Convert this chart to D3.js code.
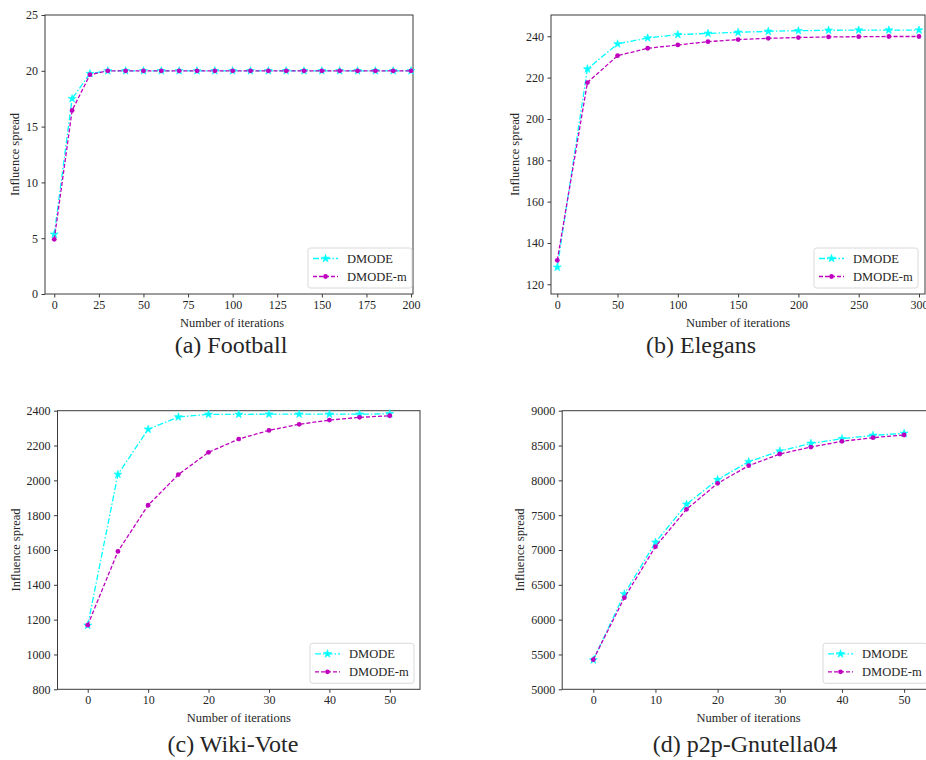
<!DOCTYPE html>
<html>
<head>
<meta charset="utf-8">
<script src="https://cdn.jsdelivr.net/npm/d3@7"></script>
<style>
  body { margin: 0; background: #fff; }
  svg text { font-family: "Liberation Serif", "Times New Roman", serif; fill: #262626; }
</style>
</head>
<body>
<svg id="chart" width="926" height="760"></svg>
<script>
// values
var seriesNames = ["DMODE", "DMODE-m"];

var footballIter = [0, 10, 20, 30, 40, 50, 60, 70, 80, 90, 100, 110, 120, 130, 140, 150, 160, 170, 180, 190, 200];
var footballDmode = [5.35, 17.5, 19.75, 20, 20, 20, 20, 20, 20, 20, 20, 20, 20, 20, 20, 20, 20, 20, 20, 20, 20];
var footballDmodeM = [4.9, 16.45, 19.65, 20, 20, 20, 20, 20, 20, 20, 20, 20, 20, 20, 20, 20, 20, 20, 20, 20, 20];

var elegansIter = [0, 25, 50, 75, 100, 125, 150, 175, 200, 225, 250, 275, 300];
var elegansDmode = [128.2, 224.2, 236.3, 239.2, 240.8, 241.4, 241.9, 242.4, 242.7, 242.9, 243.0, 243.0, 243.0];
var elegansDmodeM = [131.6, 217.6, 230.6, 234.2, 235.8, 237.4, 238.4, 239.0, 239.4, 239.7, 239.8, 239.9, 239.9];

var wikiIter = [0, 5, 10, 15, 20, 25, 30, 35, 40, 45, 50];
var wikiDmode = [1167, 2034, 2293, 2364, 2379, 2379, 2380, 2380, 2380, 2380, 2382];
var wikiDmodeM = [1168, 1592, 1857, 2033, 2161, 2237, 2287, 2322, 2346, 2362, 2371];

var gnutellaIter = [0, 5, 10, 15, 20, 25, 30, 35, 40, 45, 50];
var gnutellaDmode = [5421, 6369, 7110, 7656, 8010, 8268, 8421, 8531, 8598, 8646, 8675];
var gnutellaDmodeM = [5425, 6316, 7048, 7584, 7957, 8211, 8378, 8478, 8560, 8613, 8651];

var footballXTicks = [0, 25, 50, 75, 100, 125, 150, 175, 200];
var footballYTicks = [0, 5, 10, 15, 20, 25];
var elegansXTicks = [0, 50, 100, 150, 200, 250, 300];
var elegansYTicks = [120, 140, 160, 180, 200, 220, 240];
var wikiXTicks = [0, 10, 20, 30, 40, 50];
var wikiYTicks = [800, 1000, 1200, 1400, 1600, 1800, 2000, 2200, 2400];
var gnutellaXTicks = [0, 10, 20, 30, 40, 50];
var gnutellaYTicks = [5000, 5500, 6000, 6500, 7000, 7500, 8000, 8500, 9000];

var captions = ["(a) Football", "(b) Elegans", "(c) Wiki-Vote", "(d) p2p-Gnutella04"];

(function (d3) {

  "use strict";

  var svg = d3.select("#chart");
  var serif = "'Liberation Serif', 'Times New Roman', serif";
  var colors = ["#00ffff", "#bf00bf"];
  var dashes = ["6,2,1.5,2", "4,2"];
  var spine = "#3a3a3a";

  // layout of each subplot (pixels)
  var panels = [
    { iter: footballIter, a: footballDmode, b: footballDmodeM, xt: footballXTicks, yt: footballYTicks,
      box: [45, 15, 413, 294], xd: [-5.2, 201.1], yd: [0, 25], labelCx: 232, capX: 231, capY: 353, legRight: 412 },
    { iter: elegansIter, a: elegansDmode, b: elegansDmodeM, xt: elegansXTicks, yt: elegansYTicks,
      box: [551, 15, 925, 294], xd: [-5.2, 305], yd: [115.3, 250.3], labelCx: 738, capX: 701, capY: 353, legRight: 918 },
    { iter: wikiIter, a: wikiDmode, b: wikiDmodeM, xt: wikiXTicks, yt: wikiYTicks,
      box: [57.5, 410.7, 420, 689.3], xd: [-5, 55], yd: [800, 2400], labelCx: 238.7, capX: 233, capY: 752, legRight: 414 },
    { iter: gnutellaIter, a: gnutellaDmode, b: gnutellaDmodeM, xt: gnutellaXTicks, yt: gnutellaYTicks,
      box: [562.2, 410.7, 935.2, 689.3], xd: [-5, 55], yd: [5000, 9000], labelCx: 748.5, capX: 745, capY: 752, legRight: 927 }
  ];

  function drawMarkers(g, pts, k, x, y) {
    if (k === 0) {
      g.selectAll("path.star")
        .data(pts)
        .enter()
        .append("path")
        .attr("class", "star")
        .attr("d", d3.symbol().type(d3.symbolStar).size(20))
        .attr("transform", function (d) { return "translate(" + x(d[0]) + "," + y(d[1]) + ")"; })
        .attr("fill", colors[0])
        .attr("stroke", colors[0])
        .attr("stroke-width", 0.6);
    } else {
      g.selectAll("circle")
        .data(pts)
        .enter()
        .append("circle")
        .attr("cx", function (d) { return x(d[0]); })
        .attr("cy", function (d) { return y(d[1]); })
        .attr("r", 2.4)
        .attr("fill", colors[1]);
    }
  }

  function drawPanel(p, idx) {
    var L = p.box[0], T = p.box[1], R = p.box[2], B = p.box[3];
    var x = d3.scaleLinear().domain(p.xd).range([L, R]);
    var y = d3.scaleLinear().domain(p.yd).range([B, T]);
    var g = svg.append("g");

    // axes
    var xa = g.append("g")
      .attr("transform", "translate(0," + B + ")")
      .call(d3.axisBottom(x).tickValues(p.xt).tickFormat(d3.format("d"))
        .tickSize(3.5).tickPadding(3).tickSizeOuter(0));
    var ya = g.append("g")
      .attr("transform", "translate(" + L + ",0)")
      .call(d3.axisLeft(y).tickValues(p.yt).tickFormat(d3.format("d"))
        .tickSize(3.5).tickPadding(3.5).tickSizeOuter(0));
    [xa, ya].forEach(function (a) {
      a.attr("font-family", serif).attr("font-size", 12);
      a.select(".domain").remove();
      a.selectAll("line").attr("stroke", spine);
      a.selectAll("text").attr("fill", "#262626");
    });

    // frame
    g.append("rect")
      .attr("x", L).attr("y", T)
      .attr("width", R - L).attr("height", B - T)
      .attr("fill", "none")
      .attr("stroke", spine)
      .attr("stroke-width", 1);

    // lines and markers
    var line = d3.line()
      .x(function (d) { return x(d[0]); })
      .y(function (d) { return y(d[1]); });
    [p.a, p.b].forEach(function (vals, k) {
      var pts = p.iter.map(function (it, i) { return [it, vals[i]]; });
      g.append("path")
        .datum(pts)
        .attr("d", line)
        .attr("fill", "none")
        .attr("stroke", colors[k])
        .attr("stroke-width", 1.3)
        .attr("stroke-dasharray", dashes[k]);
      drawMarkers(g, pts, k, x, y);
    });

    // axis labels
    g.append("text")
      .attr("x", p.labelCx).attr("y", B + 33)
      .attr("text-anchor", "middle")
      .attr("font-size", 12.5)
      .text("Number of iterations");
    var bb = ya.node().getBBox();
    g.append("text")
      .attr("transform", "translate(" + (L + bb.x - 7) + "," + ((T + B) / 2) + ") rotate(-90)")
      .attr("text-anchor", "middle")
      .attr("font-size", 12.5)
      .text("Influence spread");

    // legend
    var lw = 104, lh = 40;
    var lx = p.legRight - lw, ly = B - 6 - lh;
    var leg = g.append("g").attr("transform", "translate(" + lx + "," + ly + ")");
    leg.append("rect")
      .attr("width", lw).attr("height", lh)
      .attr("rx", 2.5)
      .attr("fill", "#fff").attr("fill-opacity", 0.8)
      .attr("stroke", "#d0d0d0").attr("stroke-width", 0.8);
    seriesNames.forEach(function (name, k) {
      var ry = 10.5 + k * 18;
      leg.append("line")
        .attr("x1", 5).attr("x2", 30)
        .attr("y1", ry).attr("y2", ry)
        .attr("stroke", colors[k])
        .attr("stroke-width", 1.3)
        .attr("stroke-dasharray", dashes[k]);
      var mk = leg.append("g");
      drawMarkers(mk, [[0, 0]], k, function () { return 17.5; }, function () { return ry; });
      leg.append("text")
        .attr("x", 39).attr("y", ry + 4.5)
        .attr("font-size", 12.5)
        .text(name);
    });

    // caption
    svg.append("text")
      .attr("x", p.capX).attr("y", p.capY)
      .attr("text-anchor", "middle")
      .attr("font-size", 24)
      .text(captions[idx]);
  }

  panels.forEach(drawPanel);

})(d3);
</script>
</body>
</html>
